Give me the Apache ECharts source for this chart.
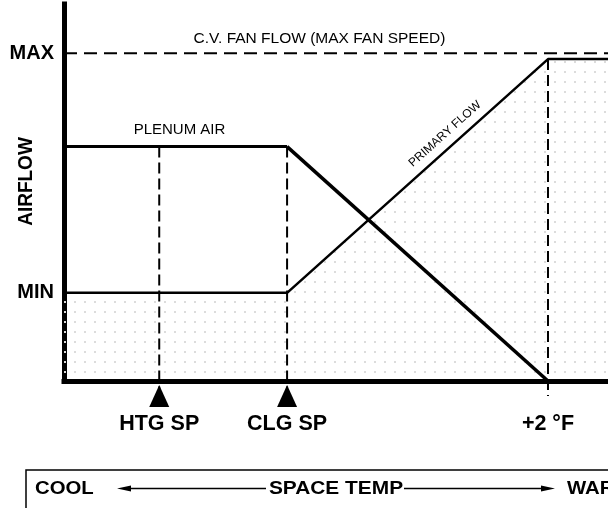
<!DOCTYPE html>
<html><head><meta charset="utf-8">
<script src="https://cdn.jsdelivr.net/npm/echarts@6/dist/echarts.min.js"></script>
<style>html,body{margin:0;padding:0;background:#fff}#c{width:608px;height:508px}</style>
</head><body><div id="c"></div>
<script>
// ---- data (x: °F relative to cooling setpoint, y: % airflow) ----
const xRange = [-1.71, 2.46];
const yRange = [0, 115];
const tickValues = [-0.98, 0, 2];
const tickLabels = ['HTG SP', 'CLG SP', '+2 °F'];
const levelValues = [100, 26.9];
const levelLabels = ['MAX', 'MIN'];
const primaryX = [-1.71, 0, 2, 2.46];
const primaryY = [26.9, 26.9, 98.2, 98.2];
const plenumX = [-1.71, 0, 2];
const plenumY = [71.5, 71.5, 0];
const maxFlow = 100;
const setpointX = [-0.98, 0, 2];
const setpointTop = [71.5, 71.5, 98.2];
const markerY = -4.6;

const font = '"Liberation Sans", Arial, Helvetica, sans-serif';
const pc = document.createElement('canvas'); pc.width = 10; pc.height = 10;
const g = pc.getContext('2d'); g.fillStyle = '#dcdcdc'; g.fillRect(4, 1, 2, 2);

const chart = echarts.init(document.getElementById('c'), null, {renderer: 'canvas'});
const line = (data, width, type, z) => ({
  type: 'line', data, symbol: 'none', silent: true, animation: false, clip: false,
  lineStyle: {color: '#000', width, type: type || 'solid'}, z: z || 3
});
const pts = (xs, ys) => xs.map((x, i) => [x, ys[i]]);
const plenum = pts(plenumX, plenumY);

const series = [];
series.push(Object.assign(line(pts(primaryX, primaryY), 2.5), {
  areaStyle: {color: {image: pc, repeat: 'repeat'}, opacity: 1}, z: 2
}));
series.push(line(plenum.slice(0, 2), 3));
series.push(line(plenum.slice(1), 3.5));
series.push(line([[xRange[0], maxFlow], [xRange[1], maxFlow]], 2, [13, 7]));
setpointX.forEach((x, i) => series.push(line([[x, setpointTop[i]], [x, markerY]], 2, [11, 5], 4)));
series.push({
  type: 'scatter', data: setpointX.slice(0, 2).map(x => [x, markerY]), symbol: 'triangle',
  symbolSize: [20, 22], itemStyle: {color: '#000', opacity: 1}, clip: false, silent: true, animation: false, z: 6
});

const lbl = (vals, labs) => v => { const i = vals.findIndex(t => Math.abs(t - v) < 1e-6); return i >= 0 ? labs[i] : ''; };

chart.setOption({
  animation: false,
  grid: {left: 64, right: 0, top: 4, bottom: 127},
  xAxis: {
    type: 'value', min: xRange[0], max: xRange[1],
    axisLine: {show: true, onZero: false, lineStyle: {color: '#000', width: 5, cap: 'square'}},
    axisTick: {show: false}, splitLine: {show: false},
    axisLabel: {customValues: tickValues, formatter: lbl(tickValues, tickLabels), margin: 32,
      fontSize: 21.5, fontWeight: 'bold', color: '#000', fontFamily: font}
  },
  yAxis: {
    type: 'value', min: yRange[0], max: yRange[1],
    axisLine: {show: true, onZero: false, lineStyle: {color: '#000', width: 5, cap: 'square'}},
    axisTick: {show: false}, splitLine: {show: false},
    axisLabel: {customValues: levelValues, formatter: lbl(levelValues, levelLabels), margin: 10,
      fontSize: 20, fontWeight: 'bold', color: '#000', fontFamily: font}
  },
  series
});

const p0 = chart.convertToPixel({gridIndex: 0}, [primaryX[1], primaryY[1]]);
const p1 = chart.convertToPixel({gridIndex: 0}, [primaryX[2], primaryY[2]]);
const ang = Math.atan2(p0[1] - p1[1], p1[0] - p0[0]);

const txt = (text, x, y, size, bold, opts, left) => Object.assign({
  type: 'text', x, y, silent: true, z: 10,
  style: {text, fill: '#000', font: (bold ? 'bold ' : '') + size + 'px ' + font,
    textAlign: left ? 'left' : 'center', align: left ? 'left' : 'center',
    textVerticalAlign: 'middle', verticalAlign: 'middle'}
}, opts || {});

const graphic = [
  txt('C.V. FAN FLOW (MAX FAN SPEED)', 319.5, 39, 15.5, false),
  txt('PLENUM AIR', 179.5, 130, 15, false),
  txt('PRIMARY FLOW', 445, 134, 12, false, {rotation: ang}),
  txt('AIRFLOW', 26, 181.5, 19, true, {rotation: Math.PI / 2, scaleY: 1.1}),
  {type: 'rect', shape: {x: 26, y: 470, width: 700, height: 100}, silent: true,
   style: {fill: 'none', stroke: '#000', lineWidth: 1.5}},
  txt('COOL', 35, 489.5, 18, true, {scaleX: 1.13}, true),
  {type: 'line', shape: {x1: 130, y1: 488.5, x2: 266, y2: 488.5}, silent: true, style: {stroke: '#000', lineWidth: 1.5}},
  {type: 'polygon', shape: {points: [[117, 488.5], [131, 485.5], [131, 491.5]]}, silent: true, style: {fill: '#000'}},
  txt('SPACE TEMP', 336, 489.5, 18, true, {scaleX: 1.16}),
  {type: 'line', shape: {x1: 404, y1: 488.5, x2: 541, y2: 488.5}, silent: true, style: {stroke: '#000', lineWidth: 1.5}},
  {type: 'polygon', shape: {points: [[555, 488.5], [541, 485.5], [541, 491.5]]}, silent: true, style: {fill: '#000'}},
  txt('WARM', 567, 489.5, 18, true, {scaleX: 1.13}, true)
];
chart.setOption({graphic});
</script></body></html>
